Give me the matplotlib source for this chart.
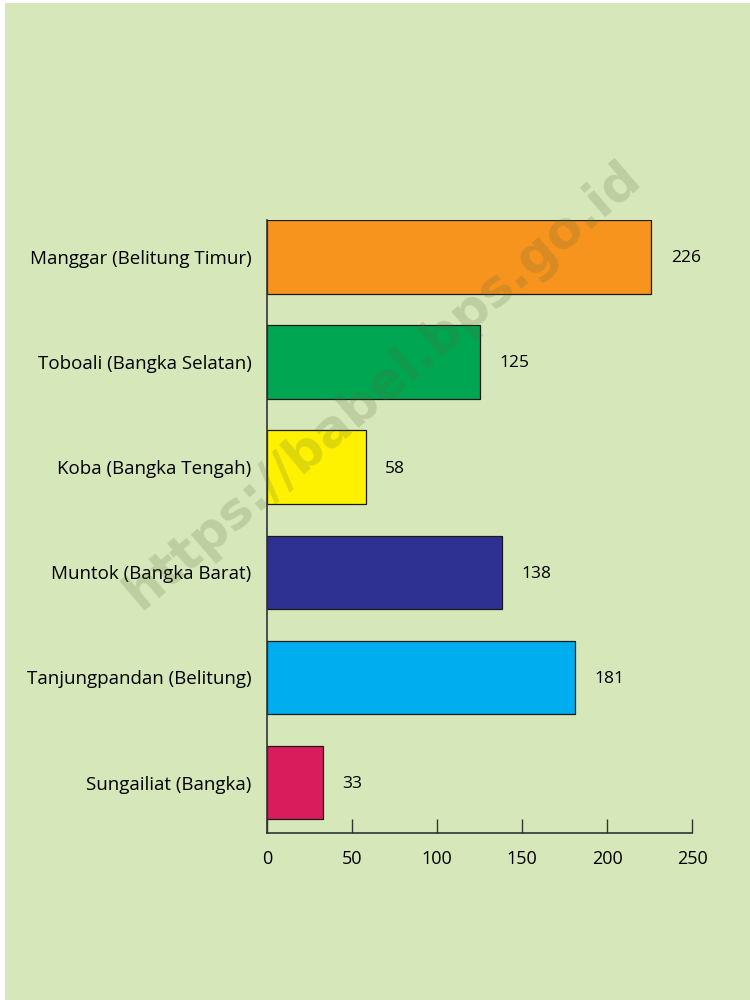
import matplotlib.pyplot as plt
from matplotlib.patches import Rectangle

# data
regions = [
    "Sungailiat (Bangka)",
    "Tanjungpandan (Belitung)",
    "Muntok (Bangka Barat)",
    "Koba (Bangka Tengah)",
    "Toboali (Bangka Selatan)",
    "Manggar (Belitung Timur)",
]
values = [33, 181, 138, 58, 125, 226]
colors = ["#D91C5C", "#00AEEF", "#2E3192", "#FFF200", "#00A651", "#F7941D"]
xticks = [0, 50, 100, 150, 200, 250]

plt.rcParams["font.family"] = ["Open Sans", "DejaVu Sans"]

fig = plt.figure(figsize=(7.5, 10), dpi=100)
fig.patch.set_facecolor("white")
fig.patches.append(Rectangle((5 / 750, 0), 1, 0.997, transform=fig.transFigure,
                             facecolor="#D6E8BA", edgecolor="none", zorder=-10))

ax = fig.add_axes([0.356, 0.167, 0.5667, 0.613])
ax.set_facecolor("none")

pos = list(range(len(regions)))
ax.barh(pos, values, height=0.7, color=colors, edgecolor="#1a1a1a", linewidth=0.9)

for p, v in zip(pos, values):
    ax.annotate(str(v), (v, p), xytext=(14, -1), textcoords="offset points",
                va="center", ha="left", fontsize=12.5)

ax.set_xlim(0, 250)
ax.set_ylim(-0.48, 5.352)
ax.set_xticks(xticks)
ax.set_xticklabels([str(t) for t in xticks])
ax.set_yticks(pos)
ax.set_yticklabels(regions)

for s in ["top", "right"]:
    ax.spines[s].set_visible(False)
for s in ["left", "bottom"]:
    ax.spines[s].set_color("#333333")
    ax.spines[s].set_linewidth(1.2)

ax.tick_params(axis="x", direction="in", length=10, width=1, color="#333333",
               pad=12, labelsize=13)
ax.tick_params(axis="y", length=0, pad=11, labelsize=13.5)

# watermark
fig.text(0.511, 0.615, "https://babel.bps.go.id", rotation=40.5, fontsize=37,
         fontweight="bold", color="#5a6b3a", alpha=0.2, ha="center", va="center",
         family="DejaVu Sans", zorder=20)

fig.savefig("out.png", dpi=100, facecolor=fig.get_facecolor())
